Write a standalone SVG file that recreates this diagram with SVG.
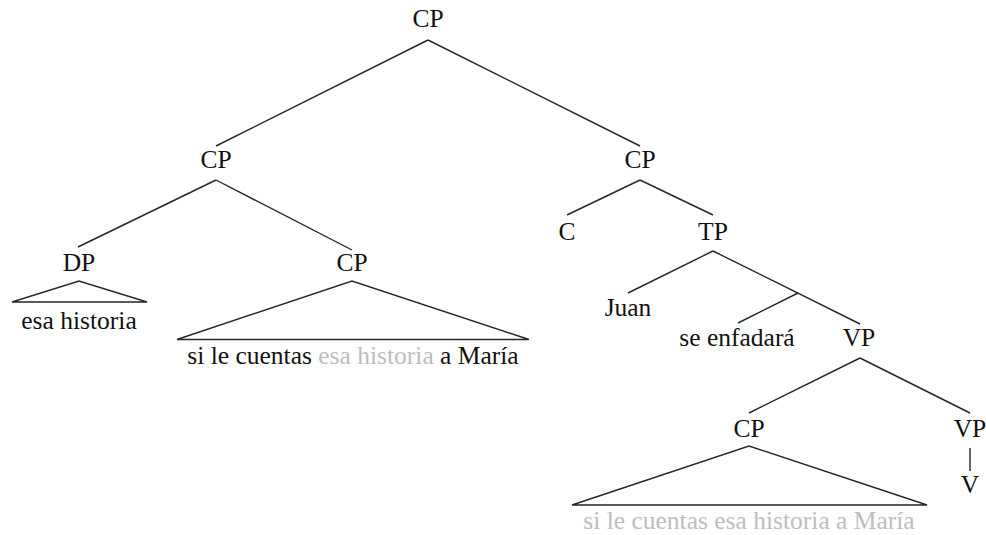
<svg xmlns="http://www.w3.org/2000/svg" width="986" height="535" viewBox="0 0 986 535">
<style>
text{font-family:"Liberation Serif","Times New Roman",serif;font-size:25.5px;fill:#111;text-anchor:middle}
.g{fill:#bdbdbd}
.e{stroke:#262626;stroke-width:1.4;fill:none}
.t{stroke:#262626;stroke-width:1.4;fill:none;stroke-linejoin:miter}
</style>
<rect width="986" height="535" fill="#fff"/>
<g id="connectors">
<line class="e" x1="428" y1="40" x2="216" y2="146"/>
<line class="e" x1="428" y1="40" x2="640" y2="146"/>
<line class="e" x1="216" y1="180" x2="78" y2="247"/>
<line class="e" x1="216" y1="180" x2="352" y2="250"/>
<line class="e" x1="640" y1="180" x2="567" y2="215"/>
<line class="e" x1="640" y1="180" x2="713" y2="215"/>
<line class="e" x1="713" y1="251" x2="628" y2="293"/>
<line class="e" x1="713" y1="251" x2="860" y2="324"/>
<line class="e" x1="798" y1="293" x2="738" y2="323"/>
<line class="e" x1="860" y1="358" x2="749" y2="413"/>
<line class="e" x1="860" y1="358" x2="970" y2="413"/>
<line class="e" x1="970" y1="448" x2="970" y2="471"/>
</g>
<g id="n-cp-root"><text x="428" y="27">CP</text></g>
<g id="n-cp-left"><text x="216" y="168">CP</text></g>
<g id="n-cp-right"><text x="640" y="168">CP</text></g>
<g id="n-dp"><text x="79" y="271">DP</text>
<path class="t" d="M12 302 L79 281 L147 302 Z"/>
<text x="79" y="329">esa historia</text></g>
<g id="n-cp-adj"><text x="352" y="271">CP</text>
<path class="t" d="M177 339.5 L352 281 L529 339.5 Z"/>
<text x="353" y="364">si le cuentas <tspan class="g">esa historia</tspan> a María</text></g>
<g id="n-c"><text x="567" y="240">C</text></g>
<g id="n-tp"><text x="713" y="240">TP</text></g>
<g id="n-juan"><text x="628" y="316">Juan</text></g>
<g id="n-se"><text x="737" y="346">se enfadará</text></g>
<g id="n-vp"><text x="859" y="346">VP</text></g>
<g id="n-cp-low"><text x="749" y="437">CP</text>
<path class="t" d="M572 505 L749 446 L927 505 Z"/>
<text class="g" x="749" y="529">si le cuentas esa historia a María</text></g>
<g id="n-vp2"><text x="970" y="437">VP</text></g>
<g id="n-v"><text x="970" y="493">V</text></g>
</svg>
